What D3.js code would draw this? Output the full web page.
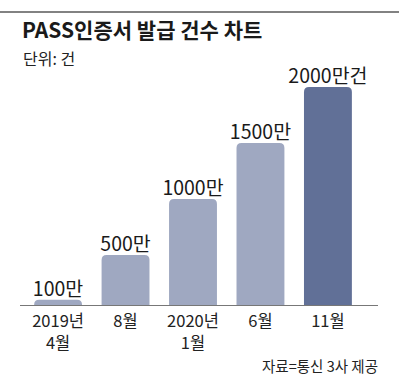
<!DOCTYPE html>
<html><head><meta charset="utf-8">
<script src="https://cdn.jsdelivr.net/npm/d3@7/dist/d3.min.js"></script>
<style>
html,body{margin:0;padding:0;background:#fff;}
text{font-family:"Noto Sans CJK KR","Noto Sans",sans-serif;}
</style></head>
<body>
<svg id="c" width="400" height="376"></svg>
<script>
const categories = [["2019년","4월"],["8월"],["2020년","1월"],["6월"],["11월"]];
const values = [100, 500, 1000, 1500, 2000];
const valueLabels = ["100만","500만","1000만","1500만","2000만건"];
const title = "PASS인증서 발급 건수 차트";
const unit = "단위: 건";
const source = "자료=통신 3사 제공";

const svg = d3.select("#c");
const baseY = 305.5;
const x = d3.scaleBand().domain(d3.range(values.length)).range([24, 362]).paddingInner(0.29).paddingOuter(0.15);
const y = d3.scaleLinear().domain([0, 2000]).range([311, 87]);

svg.append("line").attr("x1",0).attr("x2",399).attr("y1",12).attr("y2",12).attr("stroke","#828282").attr("stroke-width",2);
svg.append("text").attr("x",22).attr("y",38).attr("font-size",21).attr("font-weight",700).attr("fill","#1a1a1a").text(title);
svg.append("text").attr("x",23).attr("y",65).attr("font-size",16).attr("fill","#222").text(unit);

const r = 5;
function barPath(x0, w, top, bottom){
  const h = bottom - top;
  const rr = Math.min(r, h, w/2);
  return `M${x0},${bottom}V${top+rr}Q${x0},${top} ${x0+rr},${top}H${x0+w-rr}Q${x0+w},${top} ${x0+w},${top+rr}V${bottom}Z`;
}
svg.selectAll("path.bar").data(values).join("path").attr("class","bar")
  .attr("d",(d,i)=>barPath(x(i), x.bandwidth(), y(d), baseY))
  .attr("fill",(d,i)=> i===values.length-1 ? "#617097" : "#9fa8c1");

svg.selectAll("text.val").data(values).join("text").attr("class","val")
  .attr("x",(d,i)=>x(i)+x.bandwidth()/2).attr("y",d=>y(d)-4)
  .attr("text-anchor","middle").attr("font-size",19.5).attr("fill","#1a1a1a")
  .text((d,i)=>valueLabels[i]);

svg.append("line").attr("x1",20).attr("x2",378).attr("y1",baseY).attr("y2",baseY).attr("stroke","#777").attr("stroke-width",1);

const catLines = [];
categories.forEach((c,i)=>c.forEach((t,j)=>catLines.push({t,i,j})));
svg.selectAll("text.cat").data(catLines).join("text").attr("class","cat")
  .attr("text-anchor","middle").attr("font-size",16.5).attr("fill","#222")
  .attr("x",d=>x(d.i)+x.bandwidth()/2).attr("y",d=>327+d.j*22).text(d=>d.t);

svg.append("text").attr("x",378).attr("y",372).attr("text-anchor","end").attr("font-size",14.5).attr("fill","#222").text(source);
</script>
</body></html>
